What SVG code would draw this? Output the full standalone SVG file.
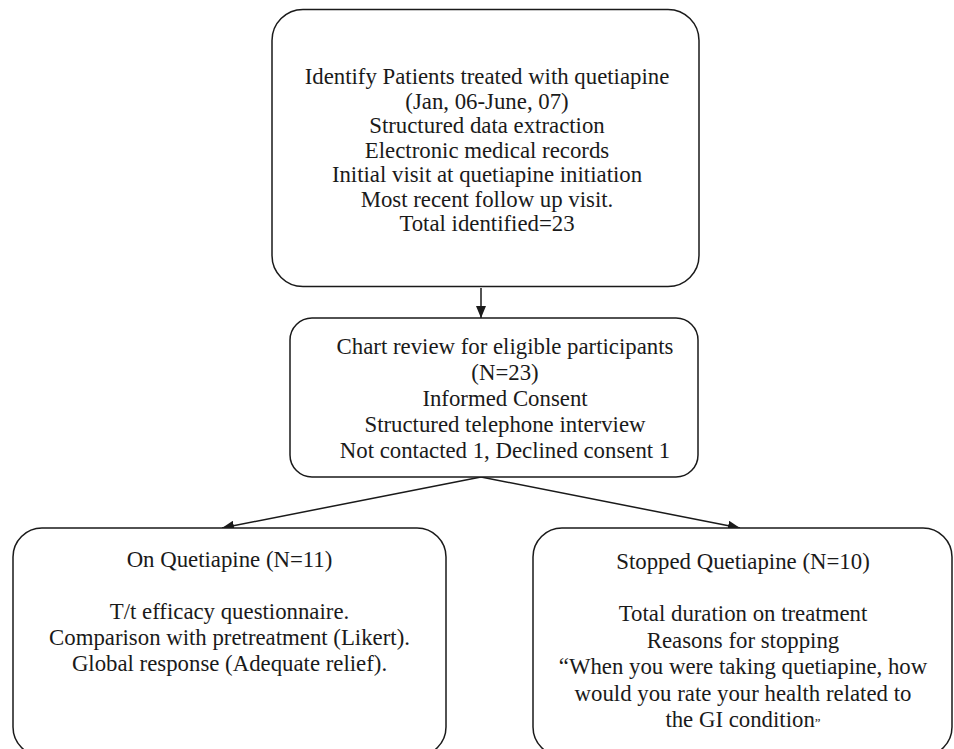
<svg xmlns="http://www.w3.org/2000/svg" width="954" height="749" viewBox="0 0 954 749">
<style>
.box{fill:#fff;stroke:#1a1a1a;stroke-width:1.5}
.t{font-family:"Liberation Serif","Times New Roman",serif;font-size:22.8px;fill:#1a1a1a;text-anchor:middle}
.c{stroke:#1a1a1a;stroke-width:1.5;fill:none}
</style>
<defs>
<marker id="ah" markerWidth="12" markerHeight="10" refX="12" refY="5" orient="auto" markerUnits="userSpaceOnUse">
<path d="M0,0 L12,5 L0,10 z" fill="#1a1a1a"/>
</marker>
</defs>
<rect width="954" height="749" fill="#fff"/>
<g id="connectors">
<line class="c" x1="481" y1="288" x2="481" y2="318" marker-end="url(#ah)"/>
<line class="c" x1="481" y1="477" x2="222" y2="528" marker-end="url(#ah)"/>
<line class="c" x1="481" y1="477" x2="740" y2="528" marker-end="url(#ah)"/>
</g>
<g id="node-identify">
<rect class="box" x="272" y="9.5" width="427" height="277" rx="31" ry="31"/>
<text class="t" x="487" y="84">Identify Patients treated with quetiapine</text>
<text class="t" x="487" y="108.5">(Jan, 06-June, 07)</text>
<text class="t" x="487" y="133">Structured data extraction</text>
<text class="t" x="487" y="157.5">Electronic medical records</text>
<text class="t" x="487" y="182">Initial visit at quetiapine initiation</text>
<text class="t" x="487" y="206.5">Most recent follow up visit.</text>
<text class="t" x="487" y="231">Total identified=23</text>
</g>
<g id="node-chart">
<rect class="box" x="290" y="318" width="408" height="159" rx="22" ry="22"/>
<text class="t" x="505" y="354">Chart review for eligible participants</text>
<text class="t" x="505" y="380">(N=23)</text>
<text class="t" x="505" y="406">Informed Consent</text>
<text class="t" x="505" y="432">Structured telephone interview</text>
<text class="t" x="505" y="458">Not contacted 1, Declined consent 1</text>
</g>
<g id="node-on">
<rect class="box" x="13" y="528" width="433" height="228" rx="29" ry="29"/>
<text class="t" x="229.5" y="567">On Quetiapine (N=11)</text>
<text class="t" x="229.5" y="619">T/t efficacy questionnaire.</text>
<text class="t" x="229.5" y="645">Comparison with pretreatment (Likert).</text>
<text class="t" x="229.5" y="671">Global response (Adequate relief).</text>
</g>
<g id="node-stopped">
<rect class="box" x="533" y="528" width="419" height="228" rx="29" ry="29"/>
<text class="t" x="743" y="569">Stopped Quetiapine (N=10)</text>
<text class="t" x="743" y="621">Total duration on treatment</text>
<text class="t" x="743" y="647.5">Reasons for stopping</text>
<text class="t" x="743" y="674">“When you were taking quetiapine, how</text>
<text class="t" x="743" y="700.5">would you rate your health related to</text>
<text class="t" x="743" y="727">the GI condition<tspan font-size="13">”</tspan></text>
</g>
</svg>
